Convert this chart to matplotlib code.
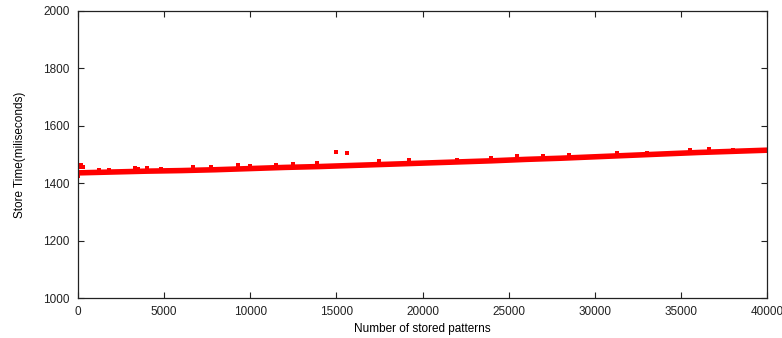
import numpy as np
import matplotlib
matplotlib.use("Agg")
import matplotlib.pyplot as plt

# trend of the band, read every 2000 patterns
patterns = [0, 2000, 4000, 6000, 8000, 10000, 12000, 14000, 16000, 18000, 20000,
            22000, 24000, 26000, 28000, 30000, 32000, 34000, 36000, 38000, 40000]
store_ms = [1436, 1439, 1442, 1444, 1447, 1451, 1455, 1458, 1462, 1466, 1470,
            1474, 1478, 1483, 1487, 1492, 1497, 1502, 1507, 1511, 1515]

# points sticking out of the band
spike_x = [0, 100, 200, 300, 1200, 1800, 3300, 3500, 4000, 4800, 6700, 7700,
           9300, 10000, 11500, 12500, 13900, 14980, 15600, 17500, 19200,
           22000, 24000, 25500, 27000, 28500, 31300, 33000, 35500, 36600, 38000]
spike_y = [1425, 1455, 1462, 1458, 1446, 1447, 1452, 1450, 1452, 1451, 1455, 1456,
           1462, 1459, 1462, 1466, 1472, 1508, 1506, 1477, 1481,
           1480, 1488, 1494, 1494, 1498, 1506, 1505, 1514, 1520, 1514]

plt.rcParams['font.family'] = ['Liberation Sans', 'DejaVu Sans']

fig = plt.figure(figsize=(7.82, 3.38), dpi=100)
ax = fig.add_axes([0.0997, 0.1183, 0.8813, 0.8492])

ax.plot(patterns, store_ms, color="#ff0000", lw=4, solid_capstyle="butt")
ax.scatter(spike_x, spike_y, color="#ff0000", marker="s", s=8, linewidths=0)

ax.set_xlim(0, 40000)
ax.set_ylim(1000, 2000)
ax.set_xticks(np.arange(0, 40001, 5000))
ax.set_yticks(np.arange(1000, 2001, 200))
ax.tick_params(direction="in", length=4, width=0.8, top=True, right=True,
               labelsize=8.5, pad=6, colors="#222222")
for s in ax.spines.values():
    s.set_linewidth(0.9)
    s.set_color("#222222")

ax.set_xlabel("Number of stored patterns", fontsize=8.5, labelpad=3)
ax.set_ylabel("Store Time(miliseconds)", fontsize=8.5, labelpad=12)

fig.savefig("out.png", dpi=100)
